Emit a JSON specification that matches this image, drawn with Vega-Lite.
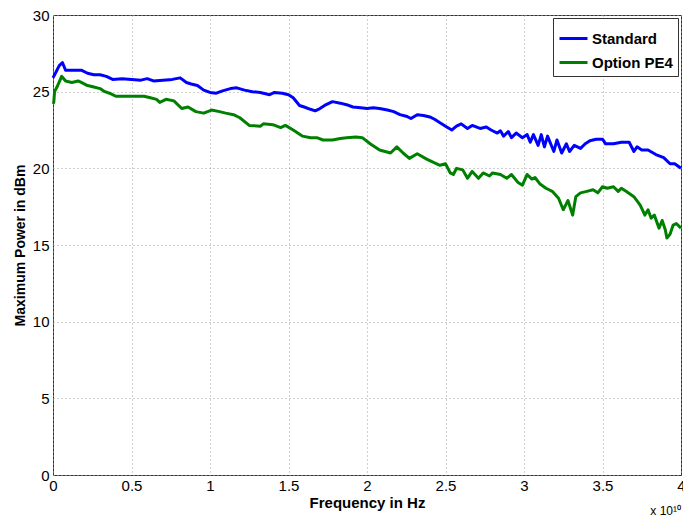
{
  "$schema": "https://vega.github.io/schema/vega-lite/v6.json",
  "autosize": {"type": "none"},
  "padding": {"left": 53, "top": 15, "right": 2, "bottom": 46},
  "width": 628,
  "height": 460,
  "background": "white",
  "config": {
    "view": {"stroke": "#333333", "strokeWidth": 1},
    "font": "Liberation Sans",
    "axis": {
      "domain": false,
      "ticks": false,
      "grid": true,
      "gridColor": "#a0a0a0",
      "gridDash": [1, 3],
      "gridWidth": 1,
      "labelFont": "Liberation Sans",
      "labelFontSize": 15,
      "labelColor": "#000000",
      "titleFont": "Liberation Sans",
      "titleFontWeight": "bold",
      "titleColor": "#000000"
    }
  },
  "title": {
    "text": "x 10¹⁰",
    "orient": "bottom",
    "anchor": "end",
    "frame": "group",
    "font": "Liberation Sans",
    "fontSize": 12,
    "fontWeight": "normal",
    "color": "#000000",
    "offset": -4
  },
  "data": {
    "values": [
      {"f": 0.00, "s": "Standard", "p": 25.9},
      {"f": 0.02, "s": "Standard", "p": 26.3},
      {"f": 0.04, "s": "Standard", "p": 26.7},
      {"f": 0.06, "s": "Standard", "p": 26.9},
      {"f": 0.08, "s": "Standard", "p": 26.4},
      {"f": 0.12, "s": "Standard", "p": 26.4},
      {"f": 0.18, "s": "Standard", "p": 26.4},
      {"f": 0.22, "s": "Standard", "p": 26.2},
      {"f": 0.26, "s": "Standard", "p": 26.1},
      {"f": 0.30, "s": "Standard", "p": 26.1},
      {"f": 0.34, "s": "Standard", "p": 26.0},
      {"f": 0.38, "s": "Standard", "p": 25.8},
      {"f": 0.44, "s": "Standard", "p": 25.85},
      {"f": 0.50, "s": "Standard", "p": 25.8},
      {"f": 0.56, "s": "Standard", "p": 25.75},
      {"f": 0.60, "s": "Standard", "p": 25.85},
      {"f": 0.64, "s": "Standard", "p": 25.7},
      {"f": 0.70, "s": "Standard", "p": 25.75},
      {"f": 0.76, "s": "Standard", "p": 25.8},
      {"f": 0.81, "s": "Standard", "p": 25.9},
      {"f": 0.85, "s": "Standard", "p": 25.6},
      {"f": 0.88, "s": "Standard", "p": 25.5},
      {"f": 0.92, "s": "Standard", "p": 25.4},
      {"f": 0.96, "s": "Standard", "p": 25.1},
      {"f": 1.00, "s": "Standard", "p": 24.95},
      {"f": 1.04, "s": "Standard", "p": 24.9},
      {"f": 1.08, "s": "Standard", "p": 25.05},
      {"f": 1.13, "s": "Standard", "p": 25.2},
      {"f": 1.17, "s": "Standard", "p": 25.25},
      {"f": 1.22, "s": "Standard", "p": 25.1},
      {"f": 1.27, "s": "Standard", "p": 25.0},
      {"f": 1.32, "s": "Standard", "p": 24.95},
      {"f": 1.38, "s": "Standard", "p": 24.8},
      {"f": 1.41, "s": "Standard", "p": 24.95},
      {"f": 1.46, "s": "Standard", "p": 24.9},
      {"f": 1.50, "s": "Standard", "p": 24.8},
      {"f": 1.53, "s": "Standard", "p": 24.6},
      {"f": 1.57, "s": "Standard", "p": 24.1},
      {"f": 1.60, "s": "Standard", "p": 24.0},
      {"f": 1.64, "s": "Standard", "p": 23.85},
      {"f": 1.67, "s": "Standard", "p": 23.75},
      {"f": 1.70, "s": "Standard", "p": 23.9},
      {"f": 1.73, "s": "Standard", "p": 24.1},
      {"f": 1.78, "s": "Standard", "p": 24.35},
      {"f": 1.83, "s": "Standard", "p": 24.25},
      {"f": 1.87, "s": "Standard", "p": 24.15},
      {"f": 1.91, "s": "Standard", "p": 24.0},
      {"f": 1.96, "s": "Standard", "p": 23.95},
      {"f": 2.00, "s": "Standard", "p": 23.9},
      {"f": 2.04, "s": "Standard", "p": 23.95},
      {"f": 2.08, "s": "Standard", "p": 23.9},
      {"f": 2.13, "s": "Standard", "p": 23.8},
      {"f": 2.17, "s": "Standard", "p": 23.7},
      {"f": 2.21, "s": "Standard", "p": 23.5},
      {"f": 2.25, "s": "Standard", "p": 23.4},
      {"f": 2.28, "s": "Standard", "p": 23.25},
      {"f": 2.32, "s": "Standard", "p": 23.5},
      {"f": 2.36, "s": "Standard", "p": 23.45},
      {"f": 2.40, "s": "Standard", "p": 23.35},
      {"f": 2.43, "s": "Standard", "p": 23.2},
      {"f": 2.46, "s": "Standard", "p": 23.0},
      {"f": 2.50, "s": "Standard", "p": 22.75},
      {"f": 2.54, "s": "Standard", "p": 22.5},
      {"f": 2.57, "s": "Standard", "p": 22.75},
      {"f": 2.60, "s": "Standard", "p": 22.9},
      {"f": 2.64, "s": "Standard", "p": 22.6},
      {"f": 2.67, "s": "Standard", "p": 22.8},
      {"f": 2.72, "s": "Standard", "p": 22.6},
      {"f": 2.76, "s": "Standard", "p": 22.7},
      {"f": 2.79, "s": "Standard", "p": 22.5},
      {"f": 2.83, "s": "Standard", "p": 22.3},
      {"f": 2.85, "s": "Standard", "p": 22.45},
      {"f": 2.87, "s": "Standard", "p": 22.1},
      {"f": 2.90, "s": "Standard", "p": 22.4},
      {"f": 2.92, "s": "Standard", "p": 22.0},
      {"f": 2.95, "s": "Standard", "p": 22.3},
      {"f": 2.99, "s": "Standard", "p": 22.0},
      {"f": 3.02, "s": "Standard", "p": 22.2},
      {"f": 3.04, "s": "Standard", "p": 21.7},
      {"f": 3.06, "s": "Standard", "p": 22.2},
      {"f": 3.09, "s": "Standard", "p": 21.5},
      {"f": 3.11, "s": "Standard", "p": 22.2},
      {"f": 3.13, "s": "Standard", "p": 21.4},
      {"f": 3.15, "s": "Standard", "p": 22.1},
      {"f": 3.19, "s": "Standard", "p": 21.1},
      {"f": 3.21, "s": "Standard", "p": 21.85},
      {"f": 3.24, "s": "Standard", "p": 21.0},
      {"f": 3.27, "s": "Standard", "p": 21.6},
      {"f": 3.29, "s": "Standard", "p": 21.1},
      {"f": 3.32, "s": "Standard", "p": 21.5},
      {"f": 3.36, "s": "Standard", "p": 21.3},
      {"f": 3.39, "s": "Standard", "p": 21.6},
      {"f": 3.42, "s": "Standard", "p": 21.8},
      {"f": 3.46, "s": "Standard", "p": 21.9},
      {"f": 3.50, "s": "Standard", "p": 21.9},
      {"f": 3.52, "s": "Standard", "p": 21.6},
      {"f": 3.57, "s": "Standard", "p": 21.6},
      {"f": 3.62, "s": "Standard", "p": 21.7},
      {"f": 3.67, "s": "Standard", "p": 21.7},
      {"f": 3.70, "s": "Standard", "p": 21.1},
      {"f": 3.72, "s": "Standard", "p": 21.4},
      {"f": 3.75, "s": "Standard", "p": 21.2},
      {"f": 3.79, "s": "Standard", "p": 21.2},
      {"f": 3.84, "s": "Standard", "p": 20.9},
      {"f": 3.89, "s": "Standard", "p": 20.7},
      {"f": 3.93, "s": "Standard", "p": 20.3},
      {"f": 3.96, "s": "Standard", "p": 20.3},
      {"f": 4.00, "s": "Standard", "p": 20.0},
      {"f": 0.00, "s": "Option PE4", "p": 24.2},
      {"f": 0.005, "s": "Option PE4", "p": 24.3},
      {"f": 0.01, "s": "Option PE4", "p": 25.0},
      {"f": 0.03, "s": "Option PE4", "p": 25.4},
      {"f": 0.055, "s": "Option PE4", "p": 26.0},
      {"f": 0.08, "s": "Option PE4", "p": 25.7},
      {"f": 0.12, "s": "Option PE4", "p": 25.6},
      {"f": 0.16, "s": "Option PE4", "p": 25.7},
      {"f": 0.18, "s": "Option PE4", "p": 25.6},
      {"f": 0.22, "s": "Option PE4", "p": 25.4},
      {"f": 0.26, "s": "Option PE4", "p": 25.3},
      {"f": 0.30, "s": "Option PE4", "p": 25.2},
      {"f": 0.33, "s": "Option PE4", "p": 25.0},
      {"f": 0.36, "s": "Option PE4", "p": 24.9},
      {"f": 0.40, "s": "Option PE4", "p": 24.7},
      {"f": 0.50, "s": "Option PE4", "p": 24.7},
      {"f": 0.58, "s": "Option PE4", "p": 24.7},
      {"f": 0.62, "s": "Option PE4", "p": 24.6},
      {"f": 0.66, "s": "Option PE4", "p": 24.5},
      {"f": 0.68, "s": "Option PE4", "p": 24.3},
      {"f": 0.72, "s": "Option PE4", "p": 24.5},
      {"f": 0.77, "s": "Option PE4", "p": 24.4},
      {"f": 0.82, "s": "Option PE4", "p": 23.9},
      {"f": 0.86, "s": "Option PE4", "p": 24.0},
      {"f": 0.91, "s": "Option PE4", "p": 23.7},
      {"f": 0.96, "s": "Option PE4", "p": 23.6},
      {"f": 1.01, "s": "Option PE4", "p": 23.8},
      {"f": 1.06, "s": "Option PE4", "p": 23.7},
      {"f": 1.10, "s": "Option PE4", "p": 23.6},
      {"f": 1.15, "s": "Option PE4", "p": 23.5},
      {"f": 1.19, "s": "Option PE4", "p": 23.3},
      {"f": 1.25, "s": "Option PE4", "p": 22.8},
      {"f": 1.32, "s": "Option PE4", "p": 22.75},
      {"f": 1.34, "s": "Option PE4", "p": 22.9},
      {"f": 1.40, "s": "Option PE4", "p": 22.85},
      {"f": 1.45, "s": "Option PE4", "p": 22.65},
      {"f": 1.48, "s": "Option PE4", "p": 22.8},
      {"f": 1.53, "s": "Option PE4", "p": 22.5},
      {"f": 1.59, "s": "Option PE4", "p": 22.1},
      {"f": 1.64, "s": "Option PE4", "p": 22.0},
      {"f": 1.68, "s": "Option PE4", "p": 22.0},
      {"f": 1.72, "s": "Option PE4", "p": 21.85},
      {"f": 1.78, "s": "Option PE4", "p": 21.85},
      {"f": 1.83, "s": "Option PE4", "p": 21.95},
      {"f": 1.87, "s": "Option PE4", "p": 22.0},
      {"f": 1.93, "s": "Option PE4", "p": 22.05},
      {"f": 1.97, "s": "Option PE4", "p": 22.0},
      {"f": 2.02, "s": "Option PE4", "p": 21.6},
      {"f": 2.08, "s": "Option PE4", "p": 21.2},
      {"f": 2.15, "s": "Option PE4", "p": 21.0},
      {"f": 2.19, "s": "Option PE4", "p": 21.4},
      {"f": 2.23, "s": "Option PE4", "p": 21.0},
      {"f": 2.27, "s": "Option PE4", "p": 20.65},
      {"f": 2.32, "s": "Option PE4", "p": 20.95},
      {"f": 2.38, "s": "Option PE4", "p": 20.6},
      {"f": 2.42, "s": "Option PE4", "p": 20.4},
      {"f": 2.465, "s": "Option PE4", "p": 20.2},
      {"f": 2.50, "s": "Option PE4", "p": 20.3},
      {"f": 2.53, "s": "Option PE4", "p": 19.7},
      {"f": 2.55, "s": "Option PE4", "p": 19.6},
      {"f": 2.57, "s": "Option PE4", "p": 20.0},
      {"f": 2.61, "s": "Option PE4", "p": 19.9},
      {"f": 2.64, "s": "Option PE4", "p": 19.35},
      {"f": 2.67, "s": "Option PE4", "p": 19.8},
      {"f": 2.71, "s": "Option PE4", "p": 19.35},
      {"f": 2.74, "s": "Option PE4", "p": 19.7},
      {"f": 2.78, "s": "Option PE4", "p": 19.5},
      {"f": 2.80, "s": "Option PE4", "p": 19.7},
      {"f": 2.85, "s": "Option PE4", "p": 19.6},
      {"f": 2.89, "s": "Option PE4", "p": 19.35},
      {"f": 2.92, "s": "Option PE4", "p": 19.6},
      {"f": 2.96, "s": "Option PE4", "p": 19.1},
      {"f": 2.99, "s": "Option PE4", "p": 18.9},
      {"f": 3.02, "s": "Option PE4", "p": 19.6},
      {"f": 3.05, "s": "Option PE4", "p": 19.3},
      {"f": 3.07, "s": "Option PE4", "p": 19.4},
      {"f": 3.10, "s": "Option PE4", "p": 19.0},
      {"f": 3.14, "s": "Option PE4", "p": 18.7},
      {"f": 3.18, "s": "Option PE4", "p": 18.5},
      {"f": 3.22, "s": "Option PE4", "p": 18.05},
      {"f": 3.25, "s": "Option PE4", "p": 17.3},
      {"f": 3.27, "s": "Option PE4", "p": 17.7},
      {"f": 3.28, "s": "Option PE4", "p": 17.9},
      {"f": 3.31, "s": "Option PE4", "p": 16.95},
      {"f": 3.33, "s": "Option PE4", "p": 18.15},
      {"f": 3.36, "s": "Option PE4", "p": 18.4},
      {"f": 3.40, "s": "Option PE4", "p": 18.5},
      {"f": 3.44, "s": "Option PE4", "p": 18.6},
      {"f": 3.47, "s": "Option PE4", "p": 18.4},
      {"f": 3.50, "s": "Option PE4", "p": 18.8},
      {"f": 3.53, "s": "Option PE4", "p": 18.7},
      {"f": 3.57, "s": "Option PE4", "p": 18.8},
      {"f": 3.60, "s": "Option PE4", "p": 18.5},
      {"f": 3.62, "s": "Option PE4", "p": 18.7},
      {"f": 3.65, "s": "Option PE4", "p": 18.5},
      {"f": 3.70, "s": "Option PE4", "p": 18.15},
      {"f": 3.74, "s": "Option PE4", "p": 17.6},
      {"f": 3.77, "s": "Option PE4", "p": 16.95},
      {"f": 3.79, "s": "Option PE4", "p": 17.3},
      {"f": 3.81, "s": "Option PE4", "p": 16.75},
      {"f": 3.83, "s": "Option PE4", "p": 16.95},
      {"f": 3.86, "s": "Option PE4", "p": 16.1},
      {"f": 3.88, "s": "Option PE4", "p": 16.6},
      {"f": 3.90, "s": "Option PE4", "p": 16.0},
      {"f": 3.91, "s": "Option PE4", "p": 15.45},
      {"f": 3.93, "s": "Option PE4", "p": 15.7},
      {"f": 3.95, "s": "Option PE4", "p": 16.3},
      {"f": 3.97, "s": "Option PE4", "p": 16.4},
      {"f": 4.00, "s": "Option PE4", "p": 16.1}
    ]
  },
  "mark": {"type": "line", "strokeWidth": 3, "strokeJoin": "round", "strokeCap": "butt"},
  "encoding": {
    "x": {
      "field": "f",
      "type": "quantitative",
      "scale": {"domain": [0, 4], "nice": false, "zero": false},
      "axis": {
        "title": "Frequency in Hz",
        "titleFontSize": 15,
        "values": [0, 0.5, 1, 1.5, 2, 2.5, 3, 3.5, 4],
        "format": "~g",
        "labelPadding": 3,
        "titlePadding": 2,
        "labelFlush": false
      }
    },
    "y": {
      "field": "p",
      "type": "quantitative",
      "scale": {"domain": [0, 30], "nice": false},
      "axis": {
        "title": "Maximum Power in dBm",
        "titleFontSize": 14,
        "values": [0, 5, 10, 15, 20, 25, 30],
        "labelPadding": 4,
        "titlePadding": 5,
        "labelFlush": false
      }
    },
    "color": {
      "field": "s",
      "type": "nominal",
      "sort": ["Standard", "Option PE4"],
      "scale": {"domain": ["Standard", "Option PE4"], "range": ["#0000ff", "#008000"]},
      "legend": {
        "title": null,
        "orient": "top-right",
        "offset": 3,
        "fillColor": "white",
        "strokeColor": "#333333",
        "padding": 5,
        "symbolType": "stroke",
        "symbolStrokeWidth": 3,
        "symbolSize": 784,
        "labelFont": "Liberation Sans",
        "labelFontSize": 15,
        "labelFontWeight": "bold",
        "labelColor": "#000000",
        "rowPadding": -9,
        "labelOffset": 3
      }
    }
  }
}
